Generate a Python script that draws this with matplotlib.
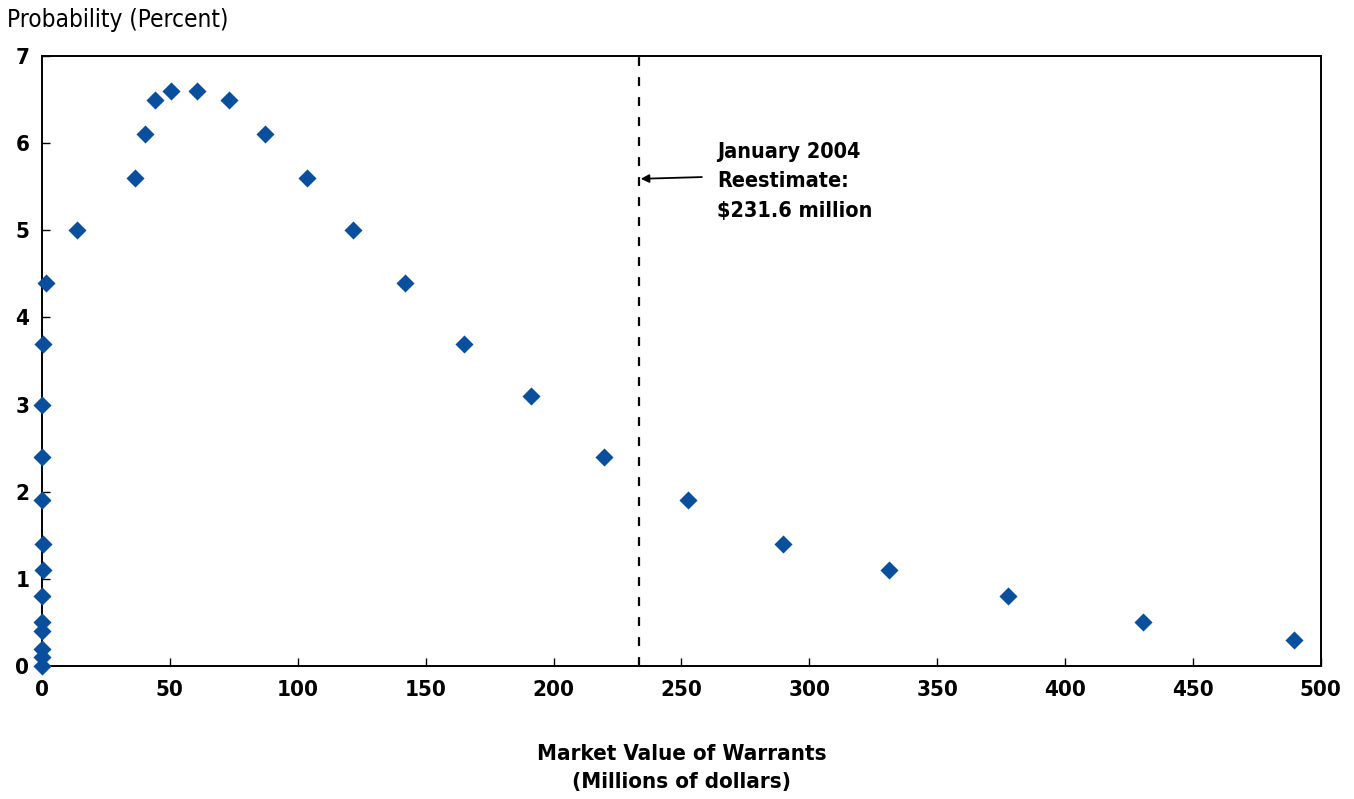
import matplotlib.pyplot as plt

# Market value of warrants (millions of dollars) and probability (percent)
values = [0.0, 0.1, 0.1, 0.2, 0.2, 0.2, 0.4, 0.3, 0.2, 0.2, 0.2, 0.3,
          1.6, 13.7, 36.4, 40.3, 44.2, 50.4, 60.6, 73.1, 87.2, 103.6,
          121.6, 141.9, 165.0, 191.2, 219.7, 252.5, 289.7, 331.1, 377.6,
          430.4, 489.4]
probability = [0.0, 0.1, 0.2, 0.4, 0.5, 0.8, 1.1, 1.4, 1.9, 2.4, 3.0, 3.7,
               4.4, 5.0, 5.6, 6.1, 6.5, 6.6, 6.6, 6.5, 6.1, 5.6,
               5.0, 4.4, 3.7, 3.1, 2.4, 1.9, 1.4, 1.1, 0.8,
               0.5, 0.3]
reestimate_x = 233.5
reestimate_label = "January 2004\nReestimate:\n$231.6 million"

plt.rcParams['font.family'] = ['DejaVu Sans']
plt.rcParams['font.stretch'] = 'condensed'

fig = plt.figure(figsize=(13.54, 7.99), dpi=100)
ax = fig.add_axes([0.031, 0.1665, 0.9445, 0.7635])

ax.scatter(values, probability, marker='D', s=85, color='#0a4f9e',
           zorder=3, clip_on=False, linewidths=0)
ax.axvline(reestimate_x, color='black', linestyle=(0, (4, 5)), linewidth=1.6)

# arrow and label drawn separately so the arrow stays level
ax.annotate('', xy=(reestimate_x + 0.6, 5.59), xytext=(258, 5.61),
            arrowprops=dict(arrowstyle='-|>', color='black', lw=1.3,
                            shrinkA=0, shrinkB=0, mutation_scale=12))
ax.text(264, 5.56, reestimate_label, fontsize=15.5, fontweight='bold',
        stretch='condensed', va='center', linespacing=1.6)

ax.set_xlim(0, 500)
ax.set_ylim(0, 7)
ax.set_xticks(range(0, 501, 50))
ax.set_yticks(range(0, 8))
ax.tick_params(direction='in', length=6, width=1, pad=10, labelsize=16,
               top=False, right=False)
ax.tick_params(axis='y', pad=9)
for lbl in ax.get_xticklabels() + ax.get_yticklabels():
    lbl.set_stretch('condensed')
    lbl.set_fontweight('bold')
for sp in ax.spines.values():
    sp.set_linewidth(1.4)

ax.set_xlabel("Market Value of Warrants\n(Millions of dollars)", fontsize=16,
              fontweight='bold', stretch='condensed', labelpad=32,
              linespacing=1.5)
fig.text(0.005, 0.975, "Probability (Percent)", fontsize=17.5,
         stretch='condensed', va='center', ha='left')

fig.savefig('out.png', dpi=100)
